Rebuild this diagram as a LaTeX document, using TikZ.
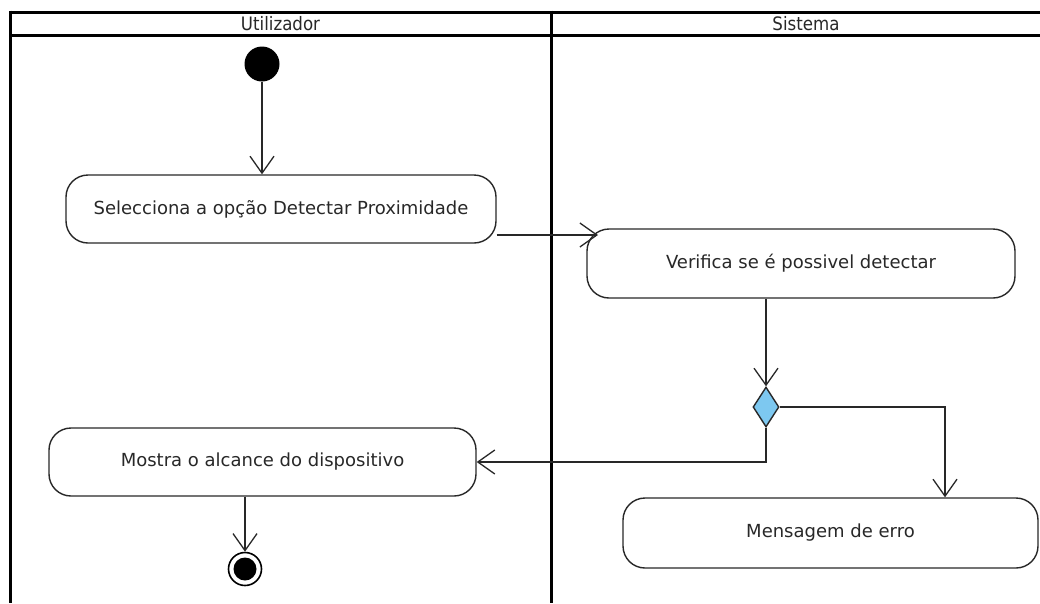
\documentclass[tikz,border=0pt]{standalone}
\usepackage{fontspec}
\setmainfont{DejaVu Sans}
\newfontfamily\lanefont{DejaVu Sans Condensed}
\usetikzlibrary{arrows.meta,shapes.geometric}
\definecolor{ink}{RGB}{40,40,40}
\definecolor{decfill}{RGB}{125,200,240}
\begin{document}
\begin{tikzpicture}[x=1pt,y=-1pt,
  lane/.style={line width=3pt,black},
  lanetitle/.style={font=\lanefont\fontsize{18.5}{21}\selectfont,text=ink,anchor=center},
  action/.style={draw=ink,line width=1.4pt,rounded corners=22pt,fill=white,
    font=\fontsize{18}{21}\selectfont,text=ink,inner sep=0pt},
  flow/.style={draw=ink,line width=1.3pt,-{Straight Barb[length=17pt,width=24pt,line width=1.3pt]}},
  decision/.style={diamond,draw=ink,line width=1.4pt,fill=decfill,inner sep=0pt,
    minimum width=26pt,minimum height=40pt,aspect=0.65},
]
\useasboundingbox (0,0) rectangle (1040,603);
\fill[white] (0,0) rectangle (1040,603);

% swimlanes
\draw[lane] (10,12) -- (1045,12);
\draw[lane] (10,35) -- (1045,35);
\draw[lane] (10,10.5) -- (10,603);
\draw[lane] (551,10.5) -- (551,603);
\node[lanetitle] (t1) at (280.5,23.5) {Utilizador};
\node[lanetitle] (t2) at (806,23.5) {Sistema};

% nodes
\node[circle,fill=black,inner sep=0pt,minimum size=35pt] (start) at (262,64) {};
\node[action,minimum width=430pt,minimum height=68pt] (b1) at (281,209)
  {Selecciona a opção Detectar Proximidade};
\node[action,minimum width=428pt,minimum height=69pt] (b2) at (801,263.5)
  {Verifica se é possivel detectar};
\node[decision] (d) at (766,407) {};
\node[action,minimum width=427pt,minimum height=68pt] (b4) at (262.5,462)
  {Mostra o alcance do dispositivo};
\node[action,minimum width=415pt,minimum height=70pt] (b3) at (830.5,533)
  {Mensagem de erro};
\node[circle,draw=black,line width=1.6pt,inner sep=0pt,minimum size=33pt] (end) at (245,569) {};
\fill[black] (end.center) circle (11.5pt);

% connectors
\coordinate (b2in) at (598,235);
\coordinate (errdrop) at (945,407);
\draw[flow] (start) -- (start |- b1.north);
\draw[flow] ([yshift=-26pt]b1.east) -- (b2in);
\draw[flow] (d.north |- b2.south) -- (d.north);
\draw[flow] (d.east) -- (errdrop) -- (errdrop |- b3.north);
\draw[flow] (d.south) |- (b4.east);
\draw[flow] (end |- b4.south) -- (end.north);
\end{tikzpicture}
\end{document}
